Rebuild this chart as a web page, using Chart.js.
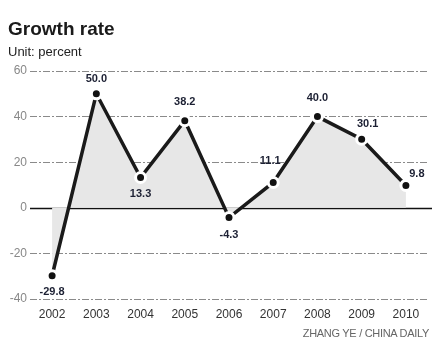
<!DOCTYPE html>
<html>
<head>
<meta charset="utf-8">
<script src="https://cdn.jsdelivr.net/npm/chart.js@4"></script>
<style>
    html, body { margin: 0; padding: 0; background: #fff; }
    #wrap { position: relative; width: 440px; height: 346px; overflow: hidden; }
    #chart { position: absolute; left: 0; top: 0; }
    .title { position: absolute; left: 8px; top: 18px; font: bold 19px "Liberation Sans", Arial, sans-serif; color: #1a1a1a; }
    .unit { position: absolute; left: 8px; top: 44px; font: 13px "Liberation Sans", Arial, sans-serif; color: #222; }
    .credit { position: absolute; right: 11px; top: 327px; font: 11px "Liberation Sans Narrow", "Liberation Sans", sans-serif; color: #666; letter-spacing: -0.3px; }
</style>
</head>
<body>
<div id="wrap">
    <canvas id="chart" width="440" height="346"></canvas>
    <div class="title">Growth rate</div>
    <div class="unit">Unit: percent</div>
    <div class="credit">ZHANG YE / CHINA DAILY</div>
</div>
<script>
    const years = ['2002', '2003', '2004', '2005', '2006', '2007', '2008', '2009', '2010'];
    const growth = [-29.8, 50.0, 13.3, 38.2, -4.3, 11.1, 40.0, 30.1, 9.8];
    const yTicks = [-40, -20, 0, 20, 40, 60];

    // where each value label sits relative to its point
    const labelOffsets = [[0, 16], [0, -15], [0, 16], [0, -19], [0, 17], [-3, -22], [0, -19], [6, -15], [11, -11]];

    // solid zero line under the series
    const zeroLine = {
        id: 'zeroLine',
        beforeDatasetsDraw(chart) {
            const { ctx, chartArea, scales } = chart;
            const y = Math.round(scales.y.getPixelForValue(0)) + 0.5;
            ctx.save();
            ctx.strokeStyle = '#111';
            ctx.lineWidth = 1.5;
            ctx.beginPath();
            ctx.moveTo(chartArea.left, y);
            ctx.lineTo(chartArea.right + 4, y);
            ctx.stroke();
            ctx.restore();
        }
    };

    // value labels next to the points
    const valueLabels = {
        id: 'valueLabels',
        afterDatasetsDraw(chart) {
            const { ctx } = chart;
            const meta = chart.getDatasetMeta(0);
            ctx.save();
            ctx.font = 'bold 11px "Liberation Sans", Arial, sans-serif';
            ctx.fillStyle = '#1c2033';
            ctx.textAlign = 'center';
            ctx.textBaseline = 'middle';
            meta.data.forEach((pt, i) => {
                const [dx, dy] = labelOffsets[i];
                ctx.fillText(growth[i].toFixed(1), pt.x + dx, pt.y + dy);
            });
            ctx.restore();
        }
    };

    new Chart(document.getElementById('chart'), {
        type: 'line',
        data: {
            labels: years,
            datasets: [{
                data: growth,
                borderColor: '#1a1a1a',
                borderWidth: 3.5,
                tension: 0,
                fill: 'origin',
                backgroundColor: '#e7e7e7',
                pointRadius: 5,
                pointBorderWidth: 3,
                pointBackgroundColor: '#111',
                pointBorderColor: '#fff'
            }]
        },
        options: {
            responsive: false,
            animation: false,
            layout: { padding: { top: 71, right: 12, bottom: 22, left: 0 } },
            plugins: {
                legend: { display: false },
                tooltip: { enabled: false }
            },
            scales: {
                x: {
                    offset: true,
                    grid: { display: false },
                    border: { display: false },
                    ticks: {
                        color: '#333',
                        font: { size: 12, family: '"Liberation Sans", Arial, sans-serif' },
                        padding: 0
                    },
                    afterFit(scale) { scale.height = 25; }
                },
                y: {
                    min: -40,
                    max: 60,
                    afterBuildTicks(scale) { scale.ticks = yTicks.map(v => ({ value: v })); },
                    grid: {
                        color: ctx => ctx.tick && ctx.tick.value === 0 ? 'rgba(0,0,0,0)' : '#8a8a8a',
                        lineWidth: 1,
                        drawTicks: false
                    },
                    border: { display: false, dash: [7, 2, 2, 2] },
                    ticks: {
                        color: '#888',
                        font: { size: 12, family: '"Liberation Sans", Arial, sans-serif' },
                        padding: 3
                    },
                    afterFit(scale) { scale.width = 30; }
                }
            }
        },
        plugins: [zeroLine, valueLabels]
    });
</script>
</body>
</html>
